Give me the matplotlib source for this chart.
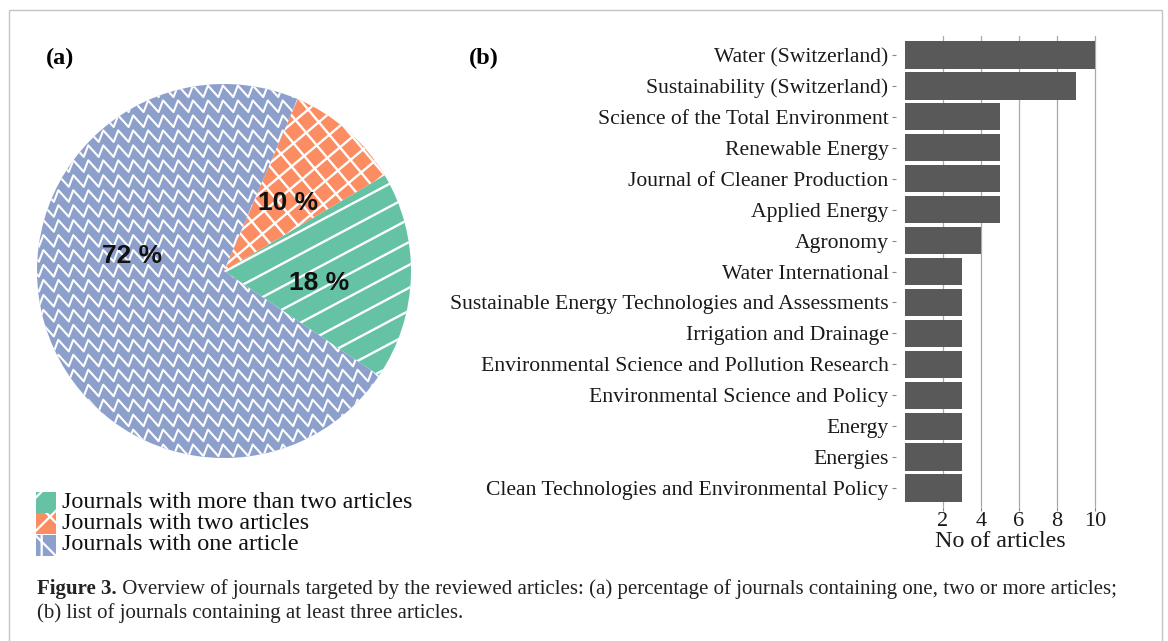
import numpy as np
import matplotlib
matplotlib.use("Agg")
import matplotlib.pyplot as plt
from matplotlib.patches import Rectangle

# --- data ---
share_labels = ["Journals with more than two articles",
                "Journals with two articles",
                "Journals with one article"]
share_values = [18, 10, 72]
share_colors = ["#66c2a5", "#fc8d62", "#8da0cb"]

journals = ["Water (Switzerland)",
            "Sustainability (Switzerland)",
            "Science of the Total Environment",
            "Renewable Energy",
            "Journal of Cleaner Production",
            "Applied Energy",
            "Agronomy",
            "Water International",
            "Sustainable Energy Technologies and Assessments",
            "Irrigation and Drainage",
            "Environmental Science and Pollution Research",
            "Environmental Science and Policy",
            "Energy",
            "Energies",
            "Clean Technologies and Environmental Policy"]
n_articles = [10, 9, 5, 5, 5, 5, 4, 3, 3, 3, 3, 3, 3, 3, 3]
x_ticks = [2, 4, 6, 8, 10]

SERIF = ["Liberation Serif", "DejaVu Serif"]
W, H = 1168, 641

plt.rcParams["hatch.color"] = "white"
plt.rcParams["hatch.linewidth"] = 1.6

fig = plt.figure(figsize=(W / 100, H / 100), dpi=100)

# outer frame
fig.patches.append(Rectangle((9 / W, -0.02), (1162 - 9) / W, (H - 10) / H + 0.02,
                             transform=fig.transFigure, fill=False,
                             edgecolor="#c4c4c4", lw=1.0))


def px_axes(x0, y0, x1, y1):
    # axes from pixel box (top-left origin)
    return fig.add_axes([x0 / W, 1 - y1 / H, (x1 - x0) / W, (y1 - y0) / H])


# --- (a) pie ---
cx, cy, r_px, half = 224, 271, 187, 200
axp = px_axes(cx - half, cy - half, cx + half, cy + half)
wedges, _ = axp.pie(share_values, colors=share_colors, startangle=-34,
                    counterclock=True, radius=1, wedgeprops=dict(linewidth=0))
lim = half / r_px
axp.set_xlim(-lim, lim)
axp.set_ylim(-lim, lim)
axp.set_aspect("equal")
axp.axis("off")


def stripes(wedge, angle, spacing, lw=1.7):
    t = np.radians(angle)
    d = np.array([np.cos(t), np.sin(t)])
    n = np.array([-np.sin(t), np.cos(t)])
    for k in np.arange(-1.3, 1.3, spacing):
        p0 = k * n - 1.5 * d
        p1 = k * n + 1.5 * d
        ln, = axp.plot([p0[0], p1[0]], [p0[1], p1[1]], color="white", lw=lw)
        ln.set_clip_path(wedge)


def zigzag(wedge, period, amp, row_gap, rise=0.3, lw=1.5):
    # one tooth: steep rise, longer fall
    tooth_x = np.array([0.0, rise * period])
    tooth_y = np.array([0.0, amp])
    starts = np.arange(-1.15, 1.15, period)
    xs = (starts[:, None] + tooth_x[None, :]).ravel()
    ys = np.tile(tooth_y, len(starts))
    for y in np.arange(-1.15, 1.15, row_gap):
        ln, = axp.plot(xs, y + ys, color="white", lw=lw)
        ln.set_clip_path(wedge)


stripes(wedges[0], 28, 0.108)
stripes(wedges[1], 40, 0.088)
stripes(wedges[1], -50, 0.088)
zigzag(wedges[2], 0.08, 0.062, 0.08)

# percentage labels (radius, angle in deg)
pct_pos = [(0.51, -7), (0.50, 47), (0.50, 171)]
for v, (rr, aa) in zip(share_values, pct_pos):
    axp.text(rr * np.cos(np.radians(aa)), rr * np.sin(np.radians(aa)), f"{v} %",
             ha="center", va="center", fontsize=19, fontweight="bold",
             family=["Liberation Sans", "DejaVu Sans"], color="#111111")

# legend, drawn by hand: touching square keys
key_hatch = ["/", "x", "|\\"]
for i, (lab, col, h) in enumerate(zip(share_labels, share_colors, key_hatch)):
    yc = 502 + i * 21.5
    fig.patches.append(Rectangle((36 / W, 1 - (yc + 10.5) / H), 20 / W, 21 / H,
                                 transform=fig.transFigure, facecolor=col,
                                 edgecolor="white", lw=0, hatch=h))
    fig.text(62 / W, 1 - yc / H, lab, family=SERIF, fontsize=17.4,
             va="center", ha="left", color="#111111")

# --- (b) bars ---
axb = px_axes(895.5, 36.4, 1104.5, 506.6)
ypos = np.arange(len(journals))
axb.barh(ypos, n_articles, height=0.88, color="#595959", zorder=2)
axb.set_yticks(ypos)
axb.set_yticklabels(journals, family=SERIF, fontsize=15.6, color="#1a1a1a")
axb.set_xticks(x_ticks)
axb.set_xticklabels([str(t) for t in x_ticks], family=SERIF, fontsize=16,
                    color="#1a1a1a")
axb.set_xlim(-0.5, 10.5)
axb.set_ylim(len(journals) - 0.4, -0.6)
axb.grid(axis="x", color="#a8a8a8", lw=0.9, zorder=0)
axb.set_axisbelow(True)
for s in axb.spines.values():
    s.set_visible(False)
axb.tick_params(axis="both", length=3, width=0.8, color="#888888", pad=2)
axb.tick_params(axis="x", pad=1)
axb.set_xlabel("No of articles", family=SERIF, fontsize=17.3, labelpad=0,
               color="#1a1a1a")

# panel tags
fig.text(60 / W, 1 - 58 / H, "(a)", family=SERIF, fontsize=17.5,
         fontweight="bold", ha="center", va="center")
fig.text(484 / W, 1 - 58 / H, "(b)", family=SERIF, fontsize=17.5,
         fontweight="bold", ha="center", va="center")

# caption
cap_size = 15
t1 = fig.text(37 / W, 1 - 594 / H, "Figure 3.", family=SERIF, fontsize=cap_size,
              fontweight="bold", va="baseline", color="#222222")
fig.text(37 / W, 1 - 618 / H, "(b) list of journals containing at least three articles.",
         family=SERIF, fontsize=cap_size, va="baseline", color="#222222")
fig.canvas.draw()
bb = t1.get_window_extent()
fig.text(bb.x1 / W, 1 - 594 / H,
         " Overview of journals targeted by the reviewed articles: (a) percentage "
         "of journals containing one, two or more articles;", family=SERIF,
         fontsize=cap_size, va="baseline", color="#222222")

fig.savefig("out.png", dpi=100)
